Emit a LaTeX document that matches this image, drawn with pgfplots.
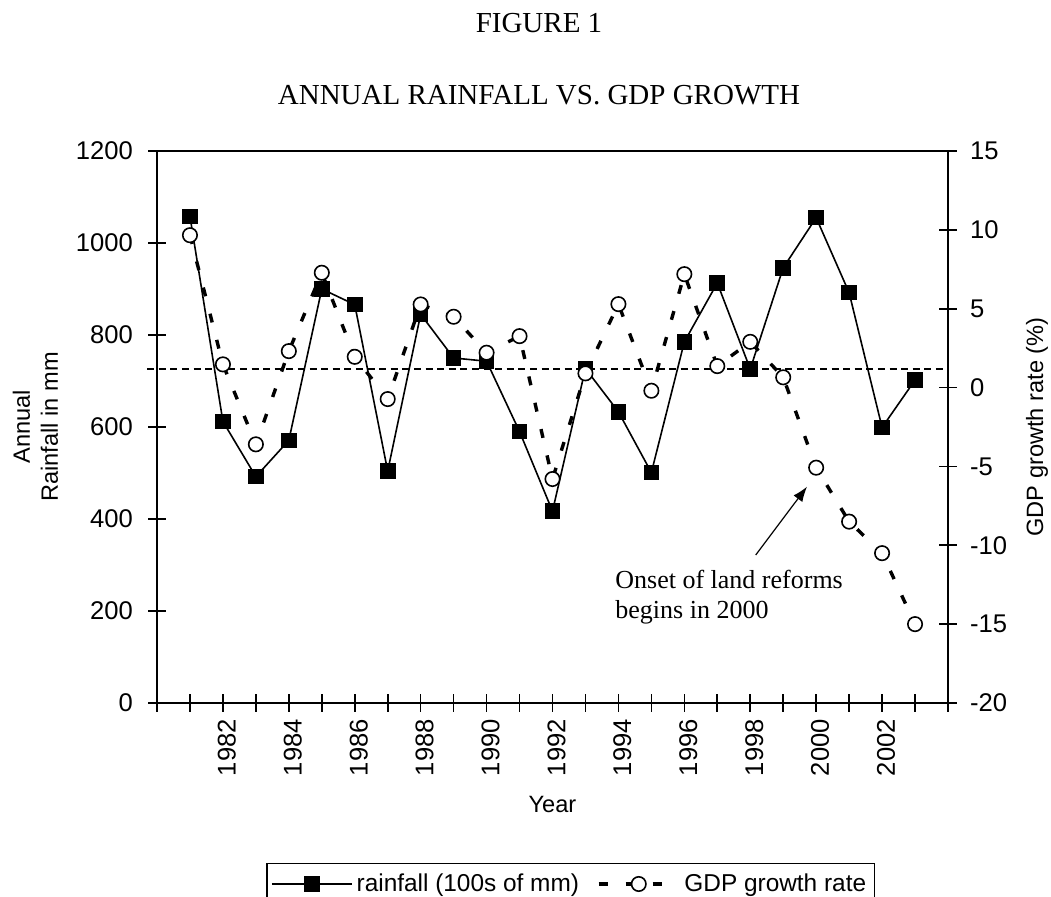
\documentclass[border=0pt]{standalone}
\usepackage{fontspec}
\setmainfont{Liberation Sans}
\newfontfamily\seriffont{Liberation Serif}
\usepackage{pgfplots}
\usepackage{pgfplotstable}
\pgfplotsset{compat=1.18}
\usetikzlibrary{arrows.meta}

\pgfplotstableread{
year rain
1981 1058
1982 612
1983 492
1984 571
1985 900
1986 866
1987 504
1988 845
1989 750
1990 743
1991 590
1992 417
1993 727
1994 633
1995 501
1996 785
1997 913
1998 726
1999 946
2000 1055
2001 892
2002 599
2003 702
}\raintable

\pgfplotstableread{
year gdp
1981 9.66
1982 1.47
1983 -3.6
1984 2.31
1985 7.28
1986 1.95
1987 -0.73
1988 5.27
1989 4.49
1990 2.21
1991 3.26
1992 -5.8
1993 0.9
1994 5.29
1995 -0.2
1996 7.19
1997 1.36
1998 2.9
1999 0.65
2000 -5.08
2001 -8.5
2002 -10.5
2003 -15.0
}\gdptable

\pgfplotsset{
  common/.style={
    scale only axis, width=395.5pt, height=276pt,
    at={(78.5pt,97pt)}, anchor=south west,
    xmin=1980, xmax=2004,
    tick align=center, major tick length=9pt, minor tick length=9pt,
    tick style={black, line width=0.8pt},
    tick label style={font=\fontsize{12.8}{14}\selectfont},
    label style={font=\fontsize{11.8}{14}\selectfont},
    clip=false,
  },
  rainstyle/.style={black, line width=0.8pt, mark=square*, mark size=3.5pt, mark options={solid, fill=black}},
  gdpstyle/.style={black, line width=1.7pt, dash pattern=on 4.5pt off 9pt, mark=*, mark size=3.6pt, mark options={solid, fill=white, line width=0.8pt}},
}

\begin{document}
\begin{tikzpicture}
\path[use as bounding box] (0,0) rectangle (525.5pt,448.5pt);

\begin{axis}[common,
  axis x line*=bottom, axis y line*=left, axis line style={line width=1pt,-},
  ymin=0, ymax=1200, ytick={0,200,400,600,800,1000,1200},
  yticklabels={0,200,400,600,800,1000,1200},
  yticklabel style={xshift=-4pt},
  xtick={1982,1984,1986,1988,1990,1992,1994,1996,1998,2000,2002},
  xticklabels={1982,1984,1986,1988,1990,1992,1994,1996,1998,2000,2002},
  minor xtick={1980,1981,...,2004},
  xticklabel style={rotate=90, anchor=east, yshift=-2pt},
  xlabel={Year},
  xlabel style={at={(axis description cs:0.5,-0.1975)}, anchor=base},
  ylabel={Annual\\Rainfall in mm},
  ylabel style={align=center, at={(axis description cs:-0.1536,0.5)}, anchor=center},
]
\addplot[forget plot, black, line width=0.6pt, dash pattern=on 3.5pt off 2.3pt] coordinates {(1979.7,726) (2004,726)};
\addplot[rainstyle] table[x=year, y=rain] {\raintable};
\draw[line width=0.6pt] (rel axis cs:0,1) -- (rel axis cs:1,1);
\end{axis}

\begin{axis}[common,
  axis x line=none, axis y line*=right, axis line style={line width=1pt,-},
  xtick=\empty,
  ymin=-20, ymax=15, ytick={-20,-15,-10,-5,0,5,10,15},
  yticklabels={-20,-15,-10,-5,0,5,10,15},
  yticklabel style={xshift=3pt},
  ylabel={GDP growth rate (\%)},
  ylabel style={at={(axis description cs:1.1125,0.5)}, anchor=center},
  legend style={at={(axis description cs:0.1384,-0.29)}, anchor=north west,
    legend columns=2, draw=black, line width=0.6pt,
    font=\fontsize{12.2}{14}\selectfont, inner xsep=2pt, inner ysep=3pt,
    /tikz/every even column/.append style={column sep=7pt}},
  legend image code/.code={\draw[mark repeat=2,mark phase=2,#1] plot coordinates {(0pt,0pt) (20pt,0pt) (40pt,0pt)};},
]
\addlegendimage{rainstyle}
\addlegendentry{rainfall (100s of mm)}
\addplot[gdpstyle] table[x=year, y=gdp] {\gdptable};
\addlegendentry{GDP growth rate}
\end{axis}

\begin{scope}[yshift=448.5pt, x=0.5pt, y=-0.5pt]
\node[font=\seriffont\fontsize{14.5}{16}\selectfont, anchor=base, inner sep=0] at (539,33) {FIGURE 1};
\node[font=\seriffont\fontsize{14.5}{16}\selectfont, anchor=base, inner sep=0] at (539,105) {ANNUAL RAINFALL VS. GDP GROWTH};
\node[font=\seriffont\fontsize{13}{15}\selectfont, anchor=west, align=left, inner sep=0] at (615,596.7) {Onset of land reforms\\begins in 2000};
\draw[line width=0.6pt, -{Latex[length=7.5pt,width=5.5pt]}] (755.7,555) -- (807,486.7);
\end{scope}
\end{tikzpicture}
\end{document}
